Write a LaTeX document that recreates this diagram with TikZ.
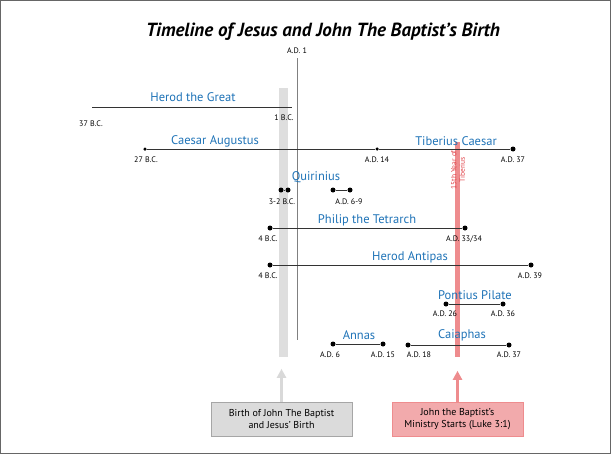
\documentclass[tikz,border=0pt]{standalone}
\usepackage{fontspec}
\setmainfont{PT Sans}
\usetikzlibrary{positioning,arrows.meta}
\definecolor{nameblue}{HTML}{1F73B7}
\definecolor{bandred}{HTML}{EE8C8E}
\definecolor{boxred}{HTML}{F2AAAC}
\definecolor{textred}{HTML}{E0444A}
\begin{document}
\begin{tikzpicture}[
    x=1pt,y=-1pt,
    font=\fontsize{8}{9}\selectfont,
    person/.style={text=nameblue,font=\fontsize{12.5}{14}\selectfont},
    era/.style={fill=black,circle,inner sep=0pt,minimum size=5pt},
    span/.style={draw=black!80,line width=0.9pt},
    note/.style={draw=black!35,minimum width=141pt,minimum height=34pt,align=center,
      font=\fontsize{10}{12}\selectfont}
  ]
\useasboundingbox (0,0) rectangle (612,455);
\draw[black!60] (0.5,0.5) rectangle (610.5,453.5);

\node[font=\bfseries\itshape\fontsize{19}{22}\selectfont] (title) at (323,32) {Timeline of Jesus and John The Baptist's Birth};

% bands
\fill[black!13] (279,88) rectangle (288,357);
\draw[black!50] (297,58) -- (297,340);
\node (ad1) at (297,51) {A.D. 1};
\fill[bandred] (455,142) rectangle (459.5,357);
\node[rotate=90,text=textred,align=center,font=\fontsize{7.5}{8.5}\selectfont] (tib15) at (458,170) {15th Year of\\Tiberius};

% Herod the Great
\coordinate (hg1) at (92,107);
\coordinate (hg2) at (292,107);
\draw[span] (hg1) -- (hg2);
\node[person] at (193,97) {Herod the Great};
\node at (91,124) {37 B.C.};
\node at (284,118) {1 B.C.};

% Augustus / Tiberius
\node[era,minimum size=3.5pt] (ca1) at (145,149) {};
\node[era,minimum size=3.5pt] (ca2) at (377,149) {};
\node[era] (tc2) at (513,149) {};
\draw[span] (ca1) -- (ca2) -- (tc2);
\node[person] at (215,141) {Caesar Augustus};
\node[person] at (456,141) {Tiberius Caesar};
\node at (146,160) {27 B.C.};
\node at (377,160) {A.D. 14};
\node at (513,160) {A.D. 37};

% Quirinius
\node[person] at (316,177) {Quirinius};
\node[era] (qa1) at (281,190) {};
\node[era] (qa2) at (288,190) {};
\node[era] (qb1) at (333,190) {};
\node[era] (qb2) at (350,190) {};
\draw[span] (qa1) -- (qa2);
\draw[span] (qb1) -- (qb2);
\node at (282,202) {3-2 B.C.};
\node at (349,202) {A.D. 6-9};

% Philip
\node[person] at (367,220) {Philip the Tetrarch};
\node[era] (ph1) at (270,228) {};
\node[era] (ph2) at (465,228) {};
\draw[span] (ph1) -- (ph2);
\node at (268,239) {4 B.C.};
\node at (464,239) {A.D. 33/34};

% Antipas
\node[person] at (410,257) {Herod Antipas};
\node[era] (an1) at (270,265) {};
\node[era] (an2) at (531,265) {};
\draw[span] (an1) -- (an2);
\node at (268,276) {4 B.C.};
\node at (530,276) {A.D. 39};

% Pilate
\node[person] at (475,295) {Pontius Pilate};
\node[era] (pp1) at (446,304) {};
\node[era] (pp2) at (503,304) {};
\draw[span] (pp1) -- (pp2);
\node at (445,314) {A.D. 26};
\node at (503,314) {A.D. 36};

% Annas / Caiaphas
\node[person] at (359,335) {Annas};
\node[era] (as1) at (333,344) {};
\node[era] (as2) at (383,344) {};
\draw[span] (as1) -- (as2);
\node at (330,355) {A.D. 6};
\node at (383,355) {A.D. 15};
\node[person] at (462,335) {Caiaphas};
\node[era] (cp1) at (408,345) {};
\node[era] (cp2) at (509,345) {};
\draw[span] (cp1) -- (cp2);
\node at (419,355) {A.D. 18};
\node at (509,355) {A.D. 37};

% notes
\node[note,fill=black!14] (birth) at (281.5,419) {Birth of John The Baptist\\and Jesus' Birth};
\node[note,fill=boxred,draw=bandred,minimum width=131pt] (ministry) at (457.5,419) {John the Baptist's\\Ministry Starts (Luke 3:1)};
\draw[black!15,line width=3pt,-{Triangle[length=9pt,width=9pt]}] (birth.north) -- ++(0,-33);
\draw[bandred,line width=3pt,-{Triangle[length=9pt,width=9pt]}] (ministry.north) -- ++(0,-31);
\end{tikzpicture}
\end{document}
